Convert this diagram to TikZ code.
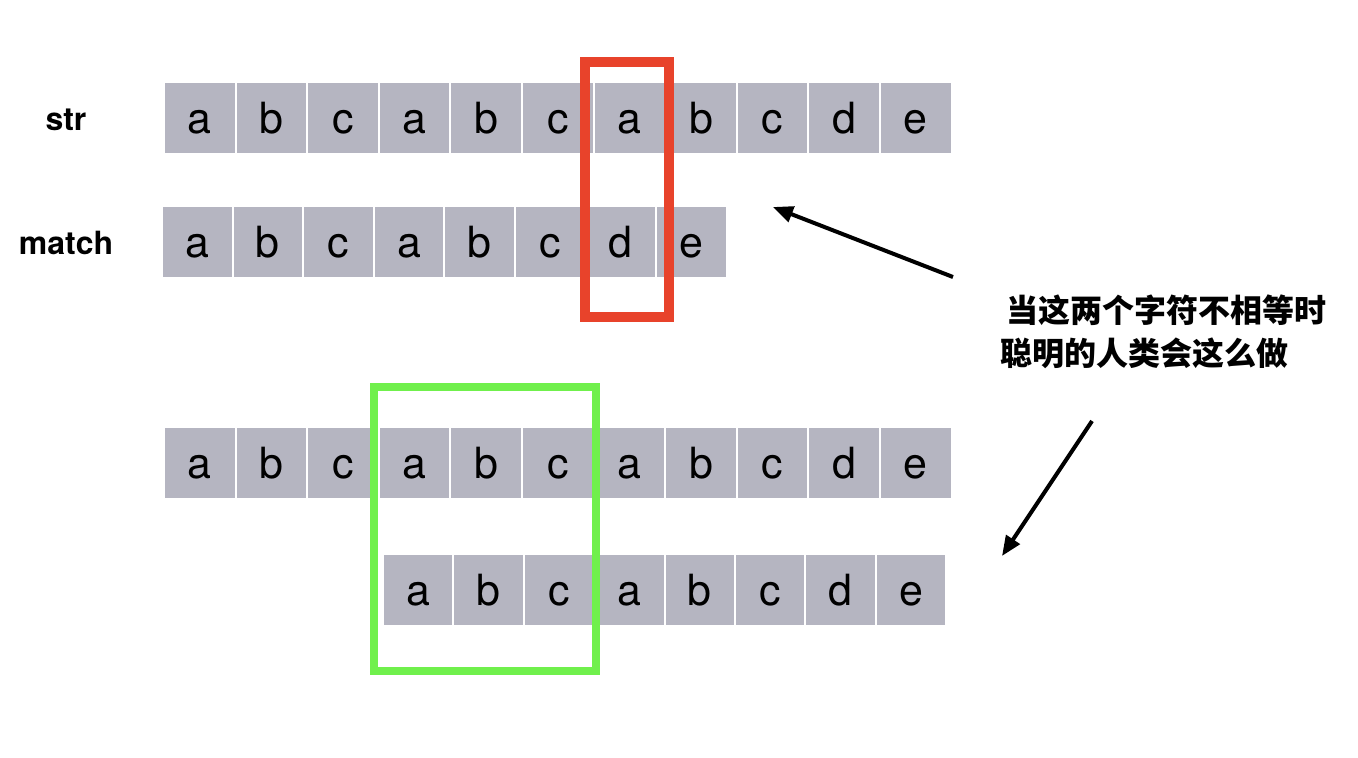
\documentclass[tikz,border=0pt]{standalone}
\usepackage{fontspec}
\setmainfont{TeX Gyre Heros}
\newfontfamily\cjk{Noto Sans CJK SC}
\usetikzlibrary{arrows.meta,positioning}
\definecolor{cellgray}{RGB}{181,181,193}
\definecolor{hitred}{RGB}{232,67,43}
\definecolor{shiftgreen}{RGB}{112,240,76}

\begin{document}
\begin{tikzpicture}[x=1pt, y=-1pt, >={Triangle[length=20pt,width=16pt]},
  cell/.style={fill=cellgray, minimum width=69.6pt, minimum height=70pt, inner sep=0pt,
    text height=31pt, text depth=0pt, font=\fontsize{43}{43}\selectfont},
  tag/.style={font=\fontsize{32}{32}\selectfont\bfseries},
  note/.style={anchor=west, inner sep=0pt, font=\fontsize{32}{32}\selectfont\cjk\bfseries},
  hint/.style={->, line width=4pt}]
  \useasboundingbox (0,0) rectangle (1358,758);
  % row labels
  \node[tag] (str) at (66,120) {str};
  \node[tag] (match) at (66,243) {match};
  % first try
  \foreach \ch [count=\i] in {a,b,c,a,b,c,a,b,c,d,e}
    \node[cell] (s\i) at ({199.8+71.6*(\i-1)},118) {\ch};
  \foreach \ch [count=\i] in {a,b,c,a,b,c,d,e}
    \node[cell, minimum width=68.6pt] (m\i) at ({197.3+70.6*(\i-1)},242) {\ch};
  % after the shift
  \foreach \ch [count=\i] in {a,b,c,a,b,c,a,b,c,d,e}
    \node[cell] (t\i) at ({199.8+71.6*(\i-1)},463) {\ch};
  \foreach \ch [count=\i] in {a,b,c,a,b,c,d,e}
    \node[cell, minimum width=68.4pt] (n\i) at ({418.2+70.4*(\i-1)},590) {\ch};
  % frames
  \draw[hitred, line width=10pt] (585,62) rectangle (669,317);
  \draw[shiftgreen, line width=8pt] (374,387) rectangle (596,671);
  % note and arrows
  \node[note] (line1) at (1006,310) {当这两个字符不相等时};
  \node[note] (line2) at (1000,353) {聪明的人类会这么做};
  \coordinate (upfrom) at (953,277);
  \coordinate (upto) at (773,207);
  \coordinate (downfrom) at (1092,421);
  \coordinate (downto) at (1002,556);
  \draw[hint] (upfrom) -- (upto);
  \draw[hint] (downfrom) -- (downto);
\end{tikzpicture}
\end{document}
